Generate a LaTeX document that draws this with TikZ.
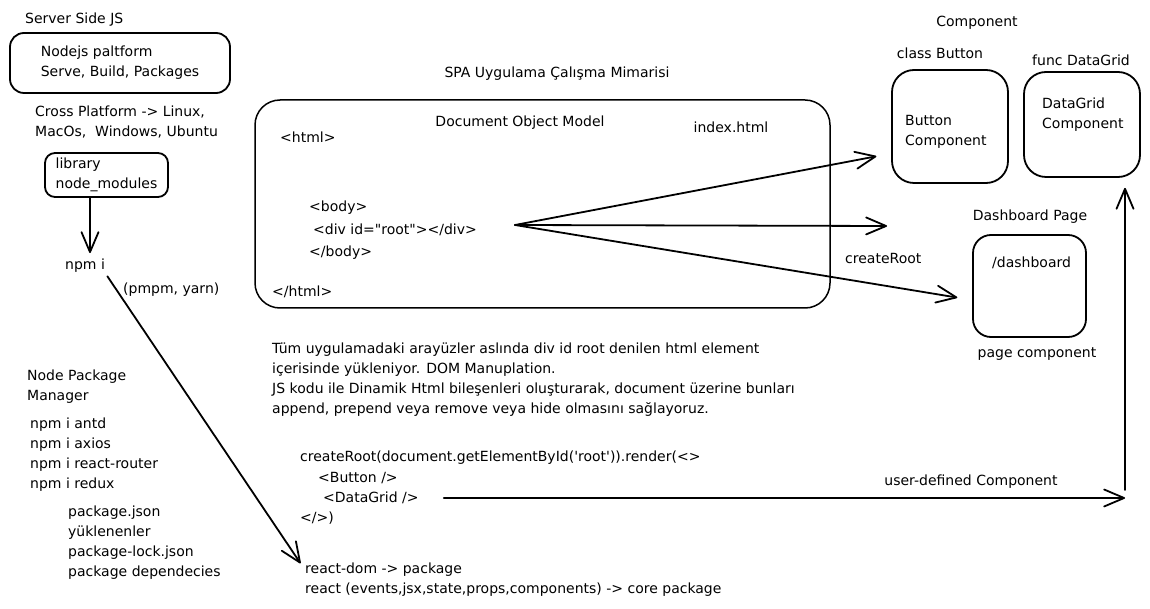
\documentclass[tikz,border=0pt]{standalone}
\usepackage{fontspec}
\setmainfont{DejaVu Sans}[Ligatures=TeXOff]
\usetikzlibrary{arrows.meta}
\tikzset{
  txt/.style={inner sep=0pt, anchor=west, align=left, font=\fontsize{14}{20}\selectfont},
  ctxt/.style={txt, anchor=center, align=center},
  box/.style={draw, line width=1.8pt, rounded corners=14pt, inner sep=0pt, align=left, font=\fontsize{14}{20}\selectfont},
  arr/.style={-{Straight Barb[length=20pt,width=17pt,round]}, line width=1.8pt, line cap=round},
}
\begin{document}
\begin{tikzpicture}[x=1pt,y=-1pt]
	\useasboundingbox (0,0) rectangle (1150,609);

	\node[txt] (ssjs) at (25,20) {Server Side JS};
	\node[box, minimum width=220pt, minimum height=60pt] (nodejs) at (120,63) {Nodejs paltform\\Serve, Build, Packages};
	\node[txt] (cross) at (35,122) {Cross Platform -> Linux,\\MacOs,~~Windows, Ubuntu};
	\node[box, rounded corners=10pt, minimum width=123pt, minimum height=44pt] (lib) at (106.5,175) {library\\node\_modules};
	\node[txt] (npmi) at (65,266) {npm i};
	\node[txt] (pm) at (123,290) {(pmpm, yarn)};
	\node[txt] (npmtitle) at (27,387) {Node Package\\Manager};
	\node[txt] (npmlist) at (30,455) {npm i antd\\npm i axios\\npm i react-router\\npm i redux};
	\node[txt] (pkg) at (68,543) {package.json\\yüklenenler\\package-lock.json\\package dependecies};

	\node[ctxt] (title) at (557,74) {SPA Uygulama Çalışma Mimarisi};
	\node[box, rounded corners=25pt, line width=1.5pt, minimum width=575pt, minimum height=208pt] (dom) at (542.5,204) {};
	\node[ctxt] (dommodel) at (520,123) {Document Object Model};
	\node[ctxt] (index) at (731,127) {index.html};
	\node[txt] (html) at (280,137) {<html>};
	\node[txt] (body) at (309,208) {<body>};
	\node[txt] (div) at (313,230) {<div id="root"></div>};
	\node[txt] (bodyend) at (309,253) {</body>};
	\node[txt] (htmlend) at (272,292) {</html>};

	\node[ctxt] (comp) at (977,23) {Component};
	\node[ctxt] (classbtn) at (940,53) {class Button};
	\node[ctxt] (funcdg) at (1081,60) {func DataGrid};
	\node[box, rounded corners=22pt, minimum width=116pt, minimum height=113pt] (btn) at (950,126.5) {};
	\node[txt] (btntxt) at (905,132) {Button\\Component};
	\node[box, rounded corners=22pt, minimum width=116pt, minimum height=105pt] (dg) at (1082,124.5) {};
	\node[txt] (dgtxt) at (1042,115) {DataGrid\\Component};
	\node[ctxt] (dashtitle) at (1030,217) {Dashboard Page};
	\node[box, rounded corners=18pt, minimum width=113pt, minimum height=102pt] (dash) at (1029.5,286) {};
	\node[txt] (dashtxt) at (992,263) {/dashboard};
	\node[ctxt] (pagecomp) at (1037,354) {page component};
	\node[txt] (createroot) at (845,258) {createRoot};

	\node[txt] (para) at (272,380) {Tüm uygulamadaki arayüzler aslında div id root denilen html element\\içerisinde yükleniyor. DOM Manuplation.\\JS kodu ile Dinamik Html bileşenleri oluşturarak, document üzerine bunları\\append, prepend veya remove veya hide olmasını sağlayoruz.};

	\node[txt] (cr) at (300,458) {createRoot(document.getElementById('root')).render(<>};
	\node[txt] (btntag) at (318,478) {<Button />};
	\node[txt] (dgtag) at (323,498) {<DataGrid />};
	\node[txt] (crend) at (300,518) {</>)};
	\node[txt] (rdom) at (305,570) {react-dom -> package};
	\node[txt] (rcore) at (305,590) {react (events,jsx,state,props,components) -> core package};
	\node[ctxt] (udc) at (971,482) {user-defined Component};

	\coordinate (fan) at (515,225);
	\coordinate (mid) at (887,226);
	\coordinate (corner) at (1125,498);

	\draw[arr, shorten >=6pt] ([xshift=-16.5pt]lib.south) -- ([xshift=-16.5pt]lib.south |- npmi.north);
	\draw[arr, shorten <=4pt, shorten >=8pt] (npmi.south east) -- (rdom.west);
	\draw[arr, shorten >=15pt] (fan) -- ([yshift=-27pt]btn.west);
	\draw[arr] (fan) -- (mid);
	\draw[arr, shorten >=15pt] (fan) -- ([yshift=-14pt]dash.west);
	\draw[arr, shorten <=25pt] (dgtag.east) -- (corner);
	\draw[arr, shorten >=10pt] ([yshift=8pt]corner) -- (corner |- dg.south);
\end{tikzpicture}
\end{document}
